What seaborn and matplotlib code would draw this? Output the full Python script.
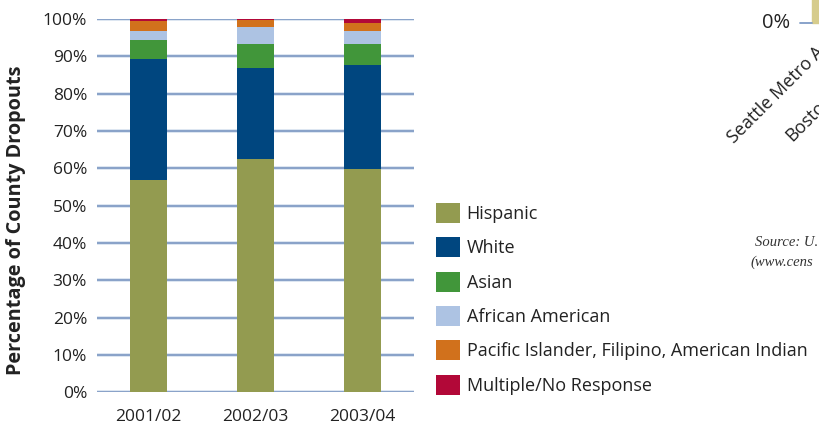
import seaborn as sns
import matplotlib.pyplot as plt
import matplotlib.patheffects as pe
import pandas as pd
from matplotlib.patches import Patch, Rectangle

years = ["2001/02", "2002/03", "2003/04"]
groups = ["Hispanic", "White", "Asian", "African American",
          "Pacific Islander, Filipino, American Indian", "Multiple/No Response"]
hispanic = [56.8, 62.5, 59.8]
white = [32.5, 24.4, 27.9]
asian = [5.1, 6.4, 5.6]
african_american = [2.4, 4.6, 3.5]
pacific = [2.7, 1.8, 2.1]
multiple = [0.5, 0.3, 1.1]
colores = ["#939b50", "#00467f", "#41963a", "#adc3e3", "#d1711c", "#b20838"]

sns.set_theme(style="white")
plt.rcParams["font.family"] = ["Open Sans", "DejaVu Sans"]

df = pd.DataFrame([hispanic, white, asian, african_american, pacific, multiple],
                  index=groups, columns=years).T
acumulado = df.cumsum(axis=1)

fig = plt.figure(figsize=(8.2, 4.3), dpi=100)
ax = fig.add_axes([0.118, 0.088, 0.387, 0.868])

# tallest cumulative first, so each layer sits on the one below
for grupo, color in reversed(list(zip(groups, colores))):
    sns.barplot(x=years, y=acumulado[grupo].values, color=color, width=0.345,
                saturation=1, linewidth=0, ax=ax, zorder=3)

ax.set_ylim(0, 100)
ax.set_xlim(-0.48, 2.48)
ax.set_yticks(range(0, 101, 10))
ax.set_yticklabels([f"{v}%" for v in range(0, 101, 10)], fontsize=12.5, color="#222222")
ax.tick_params(axis="x", labelsize=12.5, colors="#222222", pad=6)
ax.tick_params(axis="y", pad=7, length=0)
ax.yaxis.grid(True, color="#7b97c2", linewidth=1.2)
for gl in ax.get_ygridlines():
    gl.set_path_effects([pe.Stroke(linewidth=2.6, foreground="#d6e0ee"), pe.Normal()])
ax.set_axisbelow(True)
for s in ax.spines.values():
    s.set_visible(False)
ax.set_ylabel("Percentage of County Dropouts", fontsize=14.3, fontweight="bold",
              color="#222222")
ax.yaxis.set_label_coords(-0.222, 0.461)
ax.set_xlabel("")

handles = [Patch(facecolor=c, edgecolor="none", label=g) for g, c in zip(groups, colores)]
fig.legend(handles=handles, loc="upper left", bbox_to_anchor=(0.532, 0.528),
           frameon=False, fontsize=13, handlelength=1.33, handleheight=1.33,
           labelspacing=0.79, handletextpad=0.35, borderaxespad=0, borderpad=0,
           labelcolor="#222222")

# fragments of the neighbouring chart on the page
fig.text(0.964, 0.947, "0%", fontsize=14.5, color="#222222", ha="right", va="center")
fig.add_artist(plt.Line2D([0.976, 0.99], [0.946, 0.946], color="#7f9bc6", lw=1.3))
fig.add_artist(Rectangle((0.99, 0.946), 0.012, 0.06, color="#d6cc8c"))
fig.text(0.895, 0.665, "Seattle Metro A", fontsize=13, color="#222222", rotation=45,
         rotation_mode="anchor", ha="left", va="baseline")
fig.text(0.966, 0.67, "Bosto", fontsize=13, color="#222222", rotation=45,
         rotation_mode="anchor", ha="left", va="baseline")
fig.text(0.921, 0.435, "Source: U.", fontsize=10.5, style="italic",
         family="Liberation Serif", color="#333333", va="center")
fig.text(0.915, 0.39, "(www.cens", fontsize=10.5, style="italic",
         family="Liberation Serif", color="#333333", va="center")

fig.savefig("out.png", dpi=100)
